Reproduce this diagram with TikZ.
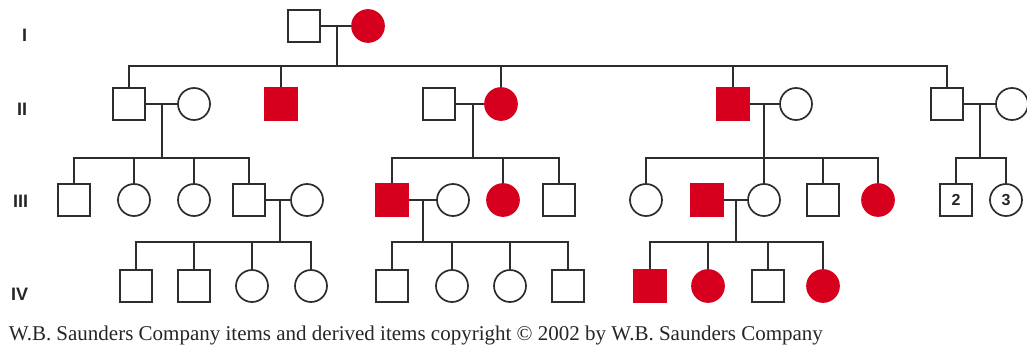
\documentclass[tikz,border=0pt]{standalone}
\usepackage{fontspec}
\setmainfont{Liberation Serif}
\newfontfamily\labfont{Liberation Sans}
\definecolor{pedred}{RGB}{214,0,30}
\definecolor{pedline}{RGB}{45,45,45}
\begin{document}
\begin{tikzpicture}[x=1pt,y=-1pt,
  line width=1.7pt, draw=pedline,
  male/.style={rectangle,draw=pedline,line width=1.7pt,minimum size=32pt,inner sep=0pt,fill=white},
  female/.style={circle,draw=pedline,line width=1.7pt,minimum size=32pt,inner sep=0pt,fill=white},
  affm/.style={male,fill=pedred,draw=pedred},
  afff/.style={female,fill=pedred,draw=pedred},
  genlab/.style={anchor=east,font=\labfont\bfseries\fontsize{18}{18}\selectfont,inner sep=0pt,text=black!85},
  numlab/.style={font=\labfont\bfseries\fontsize{16}{16}\selectfont,text=black!85},
  link/.style={draw=pedline,line width=1.7pt}]
\fill[white] (0,0) rectangle (1027,347);
\useasboundingbox (0,0) rectangle (1027,347);

% generation labels
\node[genlab] (gI) at (28,35) {I};
\node[genlab] (gII) at (28,109) {II};
\node[genlab] (gIII) at (29,201) {III};
\node[genlab] (gIV) at (29,294) {IV};

% Generation I
\node[male] (I1) at (304,26) {};
\node[afff] (I2) at (368,26) {};
\coordinate (m0) at (337,26);
\coordinate (s0) at (337,66);

% Generation II
\node[male] (A1) at (129,104) {};
\node[female] (A2) at (194,104) {};
\node[affm] (A3) at (281,104) {};
\node[male] (A4) at (439,104) {};
\node[afff] (A5) at (501,104) {};
\node[affm] (A6) at (733,104) {};
\node[female] (A7) at (796,104) {};
\node[male] (A8) at (947,104) {};
\node[female] (A9) at (1012,104) {};
\coordinate (m1) at (162,104);
\coordinate (s1) at (162,158);
\coordinate (m2) at (473,104);
\coordinate (s2) at (473,158);
\coordinate (m3) at (764,104);
\coordinate (s3) at (764,158);
\coordinate (m4) at (980,104);
\coordinate (s4) at (980,158);

% Generation III
\node[male] (B1) at (74,200) {};
\node[female] (B2) at (134,200) {};
\node[female] (B3) at (194,200) {};
\node[male] (B4) at (249,200) {};
\node[female] (B5) at (307,200) {};
\node[affm] (B6) at (392,200) {};
\node[female] (B7) at (453,200) {};
\node[afff] (B8) at (503,200) {};
\node[male] (B9) at (559,200) {};
\node[female] (B10) at (646,200) {};
\node[affm] (B11) at (707,200) {};
\node[female] (B12) at (764,200) {};
\node[male] (B13) at (823,200) {};
\node[afff] (B14) at (878,200) {};
\node[male,numlab] (B15) at (956,200) {2};
\node[female,numlab] (B16) at (1006,200) {3};
\coordinate (m5) at (280,200);
\coordinate (s5) at (280,242);
\coordinate (m6) at (423,200);
\coordinate (s6) at (423,242);
\coordinate (m7) at (736,200);
\coordinate (s7) at (736,242);

% Generation IV
\node[male] (C1) at (136,286) {};
\node[male] (C2) at (194,286) {};
\node[female] (C3) at (252,286) {};
\node[female] (C4) at (311,286) {};
\node[male] (C5) at (392,286) {};
\node[female] (C6) at (452,286) {};
\node[female] (C7) at (510,286) {};
\node[male] (C8) at (568,286) {};
\node[affm] (C9) at (650,286) {};
\node[afff] (C10) at (708,286) {};
\node[male] (C11) at (768,286) {};
\node[afff] (C12) at (823,286) {};

% marriages
\draw[link] (I1) -- (I2);
\draw[link] (A1) -- (A2);
\draw[link] (A4) -- (A5);
\draw[link] (A6) -- (A7);
\draw[link] (A8) -- (A9);
\draw[link] (B4) -- (B5);
\draw[link] (B6) -- (B7);
\draw[link] (B11) -- (B12);

% descent lines
\draw[link] (m0) -- (s0);
\draw[link] (m1) -- (s1);
\draw[link] (m2) -- (s2);
\draw[link] (m3) -- (s3);
\draw[link] (m4) -- (s4);
\draw[link] (m5) -- (s5);
\draw[link] (m6) -- (s6);
\draw[link] (m7) -- (s7);

% sibships
\foreach \c in {A1,A3,A5,A6,A8} \draw[link] (\c.north) |- (s0);
\foreach \c in {B1,B2,B3,B4} \draw[link] (\c.north) |- (s1);
\foreach \c in {B6,B8,B9} \draw[link] (\c.north) |- (s2);
\foreach \c in {B10,B12,B13,B14} \draw[link] (\c.north) |- (s3);
\foreach \c in {B15,B16} \draw[link] (\c.north) |- (s4);
\foreach \c in {C1,C2,C3,C4} \draw[link] (\c.north) |- (s5);
\foreach \c in {C5,C6,C7,C8} \draw[link] (\c.north) |- (s6);
\foreach \c in {C9,C10,C11,C12} \draw[link] (\c.north) |- (s7);

% caption
\node[anchor=base west,inner sep=0pt,font=\fontsize{21}{21}\selectfont,text=black!85] (cap) at (8,340)
  {W.B. Saunders Company items and derived items copyright \textcopyright{} 2002 by W.B. Saunders Company};
\end{tikzpicture}
\end{document}
